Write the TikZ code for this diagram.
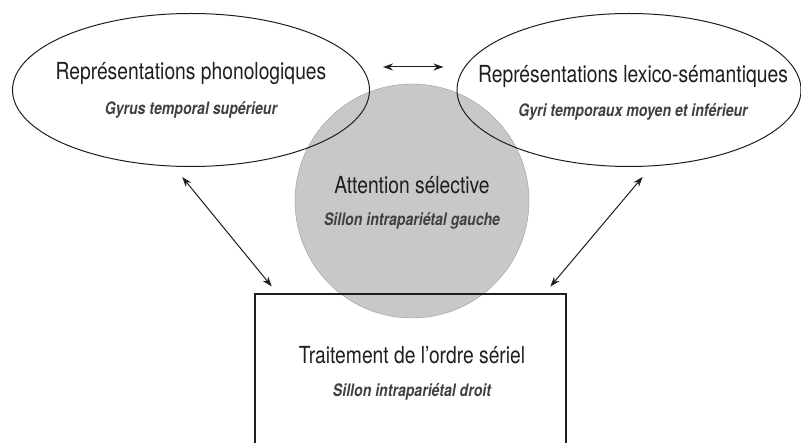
\documentclass[tikz,border=0pt]{standalone}
\usepackage{fontspec}
\setmainfont{TeX Gyre Heros}[FakeStretch=0.82]
\usepackage{tikz}
\usetikzlibrary{positioning, shapes.geometric, arrows.meta, calc}
\definecolor{attfill}{HTML}{C8C8C8}
\definecolor{attline}{HTML}{9A9A9A}
\definecolor{textdark}{HTML}{1E1E1E}

\begin{document}
\begin{tikzpicture}[x=1pt, y=-1pt,
  zone/.style={draw=textdark, ellipse, line width=1pt,
               minimum width=357pt, minimum height=153pt},
  title/.style={font=\fontsize{23.5}{26}\selectfont, text=textdark},
  sub/.style={font=\fontsize{17.2}{20}\selectfont\bfseries\itshape, text=textdark!85},
  link/.style={{Stealth[length=10pt,width=7pt]}-{Stealth[length=10pt,width=7pt]},
               color=textdark, line width=1pt}
]
  \useasboundingbox (0,0) rectangle (801,443);
  \clip (0,0) rectangle (801,443);

  \node[circle, fill=attfill, draw=attline, minimum size=234pt] (att) at (412,201) {};
  \node[zone] (phono) at (191,90) {};
  \node[zone, minimum width=344pt] (lexico) at (629,90) {};
  \node[draw=textdark, line width=1.1pt, minimum width=311pt, minimum height=166pt] (serial) at (410.5,377) {};

  \node[title] (phonoT)  at (191,74)  {Représentations phonologiques};
  \node[sub]   (phonoS)  at (191,110) {Gyrus temporal supérieur};
  \node[title] (lexicoT) at (633,76)  {Représentations lexico-sémantiques};
  \node[sub]   (lexicoS) at (633,112) {Gyri temporaux moyen et inférieur};
  \node[title] (attT)    at (412,185) {Attention sélective};
  \node[sub]   (attS)    at (412,221) {Sillon intrapariétal gauche};
  \node[title] (serialT) at (412,355) {Traitement de l’ordre sériel};
  \node[sub]   (serialS) at (412,392) {Sillon intrapariétal droit};

  \draw[link, shorten <=13pt, shorten >=13pt] ([yshift=23pt]phono.east) -- ([yshift=23pt]lexico.west);
  \draw[link, shorten <=13pt, shorten >=9pt] ([xshift=-17pt]phono.south) -- ([xshift=23pt]serial.north west);
  \draw[link, shorten <=13pt, shorten >=9pt] ([xshift=22pt]lexico.south) -- ([xshift=-22pt]serial.north east);
\end{tikzpicture}
\end{document}
